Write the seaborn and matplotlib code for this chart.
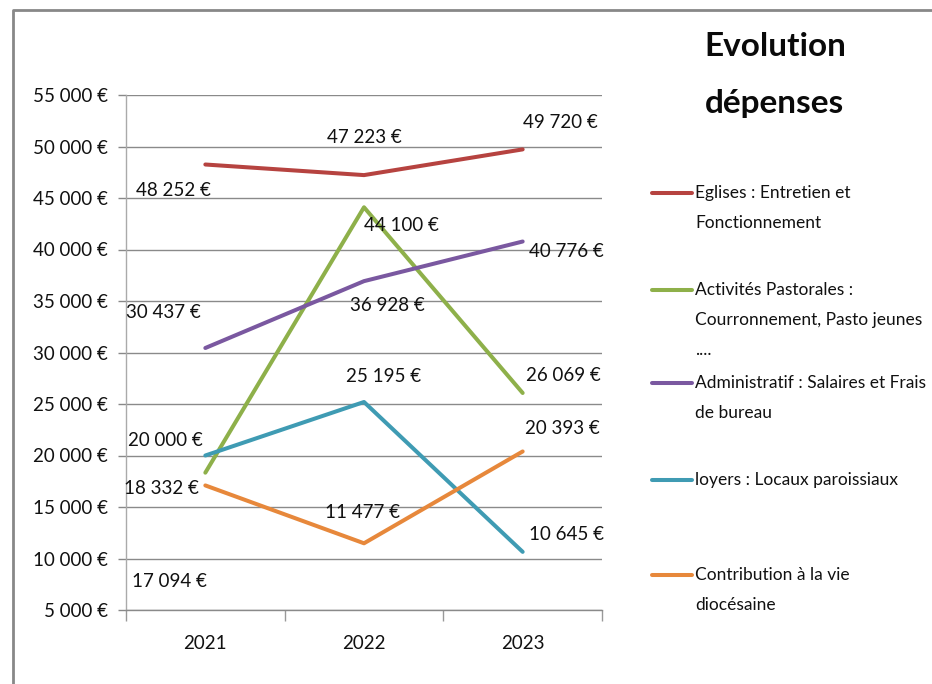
import matplotlib
matplotlib.use("Agg")
import matplotlib.pyplot as plt
import seaborn as sns
import pandas as pd
from matplotlib.lines import Line2D

years = ["2021", "2022", "2023"]
series_names = [
    "Eglises : Entretien et Fonctionnement",
    "Activités Pastorales : Courronnement, Pasto jeunes ....",
    "Administratif : Salaires et Frais de bureau",
    "loyers : Locaux paroissiaux",
    "Contribution à la vie diocésaine",
]
eglises = [48252, 47223, 49720]
activites = [18332, 44100, 26069]
administratif = [30437, 36928, 40776]
loyers = [20000, 25195, 10645]
contribution = [17094, 11477, 20393]
values = [eglises, activites, administratif, loyers, contribution]
legend_lines = [
    ["Eglises : Entretien et", "Fonctionnement"],
    ["Activités Pastorales :", "Courronnement, Pasto jeunes", "...."],
    ["Administratif : Salaires et Frais", "de bureau"],
    ["loyers : Locaux paroissiaux"],
    ["Contribution à la vie", "diocésaine"],
]
colors = ["#B64340", "#8EB04A", "#7A58A0", "#3F9BB3", "#E7883B"]

# label offsets in pixels (dx, dy) relative to the data point
offsets = [
    [(-32, -26), (0, 38), (38, 27)],
    [(-44, -16), (37, -18), (41, 17)],
    [(-42, 35), (23, -24), (44, -10)],
    [(-40, 15), (20, 25), (44, 17)],
    [(-36, -96), (-2, 31), (40, 23)],
]

FONT = ["Lato", "DejaVu Sans"]
TXT = "#111111"
sns.set_theme(style="white")
plt.rcParams["font.family"] = FONT

rows = []
for name, vals in zip(series_names, values):
    for i, v in enumerate(vals):
        rows.append({"serie": name, "x": i, "valeur": v})
df = pd.DataFrame(rows)

fig = plt.figure(figsize=(9.32, 6.84), dpi=100)
W, H = 932, 684
ax = fig.add_axes([126 / W, 74 / H, 476 / W, 515 / H])

sns.lineplot(data=df, x="x", y="valeur", hue="serie", hue_order=series_names,
             palette=colors, linewidth=2.9, ax=ax, legend=False, sort=False)

def fmt(v):
    s = f"{v:,}".replace(",", " ")
    return s + " €"

for vals, offs in zip(values, offsets):
    for i, v in enumerate(vals):
        ax.annotate(fmt(v), (i, v), xytext=offs[i], textcoords="offset pixels",
                    ha="center", va="center", fontsize=13.5, color=TXT)

ax.set_xlim(-0.5, 2.5)
ax.set_ylim(5000, 55000)
yt = list(range(5000, 55001, 5000))
ax.set_yticks(yt)
ax.set_yticklabels([fmt(v) for v in yt], fontsize=13.5, color=TXT)
ax.set_xticks([0, 1, 2])
ax.set_xticklabels(years, fontsize=13.5, color=TXT)
ax.set_xticks([-0.5, 0.5, 1.5, 2.5], minor=True)
ax.tick_params(axis="x", which="major", length=0, pad=18)
ax.tick_params(axis="x", which="minor", length=8, width=1, color="#999999", direction="out", bottom=True)
ax.tick_params(axis="y", which="major", length=6, width=1, color="#888888", direction="out", left=True, pad=7)
ax.set_xlabel("")
ax.set_ylabel("")
ax.grid(axis="y", color="#8a8a8a", linewidth=1)
ax.grid(axis="x", visible=False)
for s in ["top", "right"]:
    ax.spines[s].set_visible(False)
ax.spines["left"].set_color("#aaaaaa")
ax.spines["left"].set_linewidth(1)
ax.spines["bottom"].set_color("#8a8a8a")
ax.spines["bottom"].set_linewidth(1)

# title
fig.text(775 / W, 1 - 47 / H, "Evolution", ha="center", va="center",
         fontsize=24, fontweight="bold", color="#0a0a0a")
fig.text(775 / W, 1 - 103 / H, "dépenses", ha="center", va="center",
         fontsize=24, fontweight="bold", color="#0a0a0a")

# legend (manual, Excel-like with handle on first line)
starts = [193, 290, 383, 480, 575]
for c, lines, y0 in zip(colors, legend_lines, starts):
    fig.add_artist(Line2D([652 / W, 692 / W], [1 - y0 / H, 1 - y0 / H],
                          color=c, linewidth=2.9, transform=fig.transFigure))
    for k, t in enumerate(lines):
        fig.text(695 / W, 1 - (y0 + 30 * k) / H, t, ha="left", va="center",
                 fontsize=12.5, color=TXT)

# chart border (left and top)
fig.add_artist(Line2D([13 / W, 13 / W, 1.0], [0.0, 1 - 10 / H, 1 - 10 / H],
                      color="#888888", linewidth=2, transform=fig.transFigure))

fig.savefig("out.png", dpi=100, facecolor="white")
